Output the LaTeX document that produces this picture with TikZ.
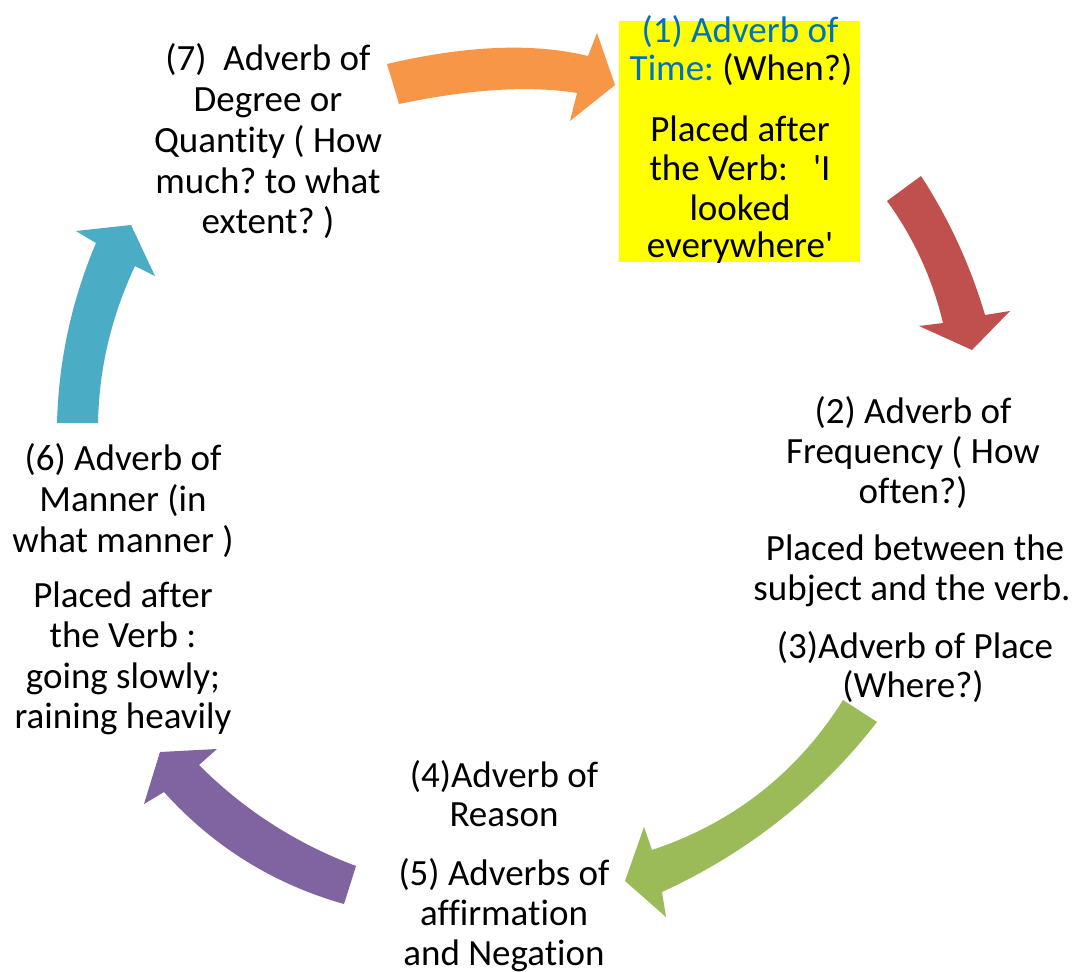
\documentclass[tikz,border=0pt]{standalone}
\usepackage{fontspec}
\newfontfamily\calib{Carlito}[Ligatures=NoCommon]
\usetikzlibrary{calc}
\definecolor{aorange}{HTML}{F79646}
\definecolor{ared}{HTML}{C0504D}
\definecolor{agreen}{HTML}{9BBB59}
\definecolor{apurple}{HTML}{8064A2}
\definecolor{acyan}{HTML}{4BACC6}
\definecolor{tblue}{HTML}{0070C0}
\definecolor{hiyellow}{HTML}{FFFF00}
\frenchspacing
\tikzset{
  txt/.style={anchor=base, inner sep=0pt, font=\calib\fontsize{37pt}{40pt}\selectfont, text=black},
  btxt/.style={txt, text=tblue},
  q/.style={to path={.. controls ($1.3333*(#1)-0.3333*(\tikztotarget)$) and ($1.3333*(#1)-0.3333*(\tikztostart)$) .. (\tikztotarget)}},
  blockarrow/.style={fill=#1, draw=none},
}
\begin{document}
\begin{tikzpicture}[x=1pt, y=-1pt]
\fill[white] (0,0) rectangle (1082,972);
\useasboundingbox (0,0) rectangle (1082,972);

% (1) highlighted box
\fill[hiyellow] (619,21) rectangle (860,262);
\begin{scope}
\clip (0,0) rectangle (1082,262);
\node[btxt] (t1a) at (740,42) {(1) Adverb of};
\node[txt]  (t1b) at (741,80) {{\color{tblue}Time:} (When?)};
\node[txt]  (t1c) at (740,141) {Placed after};
\node[txt]  (t1d) at (740,180) {the Verb:\ \ \ 'I};
\node[txt]  (t1e) at (740,220) {looked};
\node[txt]  (t1f) at (740,257) {everywhere'};
\end{scope}

% (7)
\node[txt] (t7a) at (268,70)  {(7)\ \ Adverb of};
\node[txt] (t7b) at (268,111) {Degree or};
\node[txt] (t7c) at (268,152) {Quantity ( How};
\node[txt] (t7d) at (268,193) {much? to what};
\node[txt] (t7e) at (268,233) {extent? )};

% (2) and (3)
\node[txt] (t2a) at (913,423) {(2) Adverb of};
\node[txt] (t2b) at (913,463) {Frequency ( How};
\node[txt] (t2c) at (913,503) {often?)};
\node[txt] (t2d) at (915,560) {Placed between the};
\node[txt] (t2e) at (912,600) {subject and the verb.};
\node[txt] (t3a) at (915,658) {(3)Adverb of Place};
\node[txt] (t3b) at (913,697) {(Where?)};

% (4) and (5)
\node[txt] (t4a) at (504,787) {(4)Adverb of};
\node[txt] (t4b) at (504,826) {Reason};
\node[txt] (t5a) at (504,885) {(5) Adverbs of};
\node[txt] (t5b) at (504,925) {affirmation};
\node[txt] (t5c) at (504,965) {and Negation};

% (6)
\node[txt] (t6a) at (123,470) {(6) Adverb of};
\node[txt] (t6b) at (123,511) {Manner (in};
\node[txt] (t6c) at (123,552) {what manner )};
\node[txt] (t6d) at (123,607) {Placed after};
\node[txt] (t6e) at (123,647) {the Verb :};
\node[txt] (t6f) at (123,688) {going slowly;};
\node[txt] (t6g) at (123,728) {raining heavily};

% curved block arrows
\fill[blockarrow=aorange] (387,64) to[q={497,48}] (588,56) -- (597,33) -- (615,85) -- (570,121) -- (577,93) to[q={497,90}] (399,104) -- cycle;
\fill[blockarrow=ared] (887,201) to[q={921,259}] (943,323) -- (919,326) -- (972,350) -- (1010,311) -- (985,315) to[q={958,243}] (921,176) -- cycle;
\fill[blockarrow=agreen] (843,700) to[q={761,792}] (652,850) -- (644,827) -- (625,881) -- (666,917) -- (662,892) to[q={780,820}] (877,722) -- cycle;
\fill[blockarrow=apurple] (356,866) to[q={272,824}] (199,765) -- (217,749) -- (160,752) -- (144,804) -- (164,792) to[q={246,861}] (344,904) -- cycle;
\fill[blockarrow=acyan] (57,423) to[q={68,331}] (96,243) -- (76,231) -- (131,225) -- (155,276) -- (135,266) to[q={108,343}] (98,423) -- cycle;
\end{tikzpicture}
\end{document}
